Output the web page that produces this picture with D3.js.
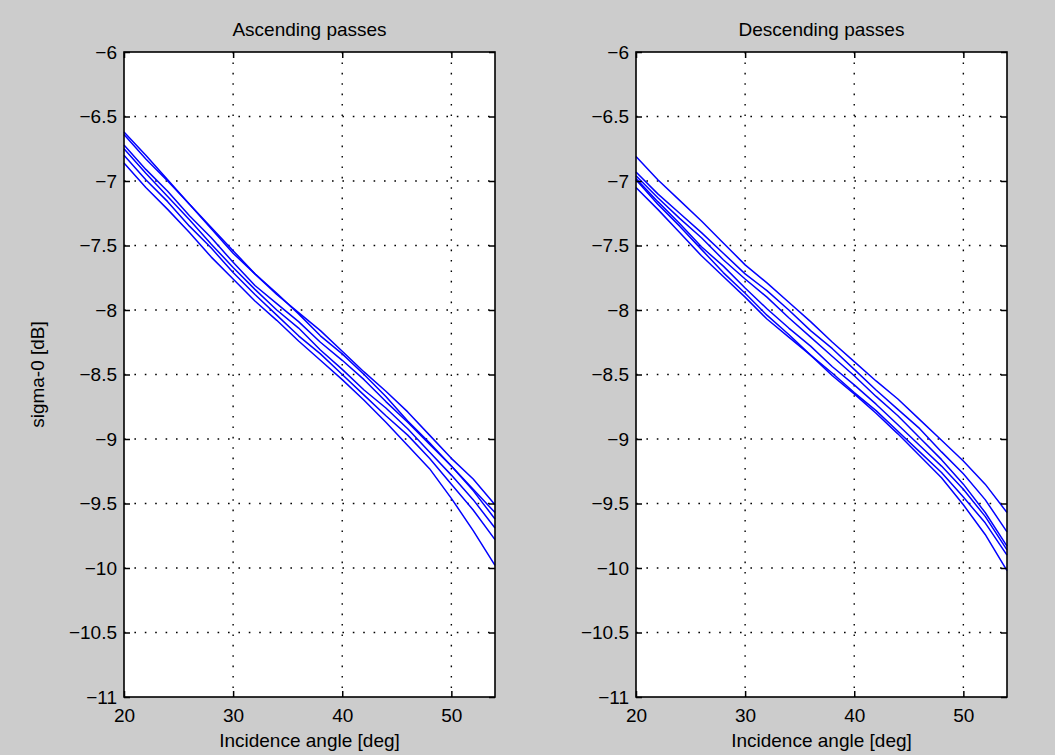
<!DOCTYPE html>
<html>
<head>
<meta charset="utf-8">
<script src="https://cdn.jsdelivr.net/npm/d3@7"></script>
<style>
  html, body { margin: 0; padding: 0; background: #cccccc; }
  svg { display: block; }
  text { font-family: "Liberation Sans", Arial, Helvetica, sans-serif; fill: #000; }
</style>
</head>
<body>
<svg id="fig" width="1055" height="755"></svg>
<script>
// Incidence angles (deg) at which sigma-0 is sampled
const angles = [20, 22, 24, 26, 28, 30, 32, 34, 36, 38, 40, 42, 44, 46, 48, 50, 52, 54];

const xTicks = [20, 30, 40, 50];
const xTickLabels = ["20", "30", "40", "50"];
const yTicks = [-6, -6.5, -7, -7.5, -8, -8.5, -9, -9.5, -10, -10.5, -11];
const yTickLabels = ["\u22126", "\u22126.5", "\u22127", "\u22127.5", "\u22128", "\u22128.5",
                     "\u22129", "\u22129.5", "\u221210", "\u221210.5", "\u221211"];

// Ascending passes, sigma-0 [dB]
const asc1 = [-6.62, -6.80, -6.99, -7.18, -7.36, -7.54, -7.72, -7.88, -8.02, -8.16, -8.32, -8.48, -8.63, -8.79, -8.97, -9.15, -9.31, -9.51];
const asc2 = [-6.64, -6.83, -7.00, -7.18, -7.37, -7.56, -7.72, -7.87, -8.03, -8.20, -8.34, -8.50, -8.67, -8.86, -9.03, -9.21, -9.40, -9.62];
const asc3 = [-6.72, -6.91, -7.08, -7.27, -7.44, -7.63, -7.81, -7.95, -8.09, -8.25, -8.39, -8.54, -8.71, -8.87, -9.04, -9.21, -9.39, -9.57];
const asc4 = [-6.75, -6.94, -7.12, -7.30, -7.49, -7.67, -7.84, -8.00, -8.14, -8.31, -8.46, -8.62, -8.76, -8.92, -9.10, -9.28, -9.47, -9.69];
const asc5 = [-6.80, -6.99, -7.16, -7.35, -7.52, -7.71, -7.88, -8.04, -8.20, -8.34, -8.50, -8.66, -8.82, -8.97, -9.15, -9.35, -9.55, -9.78];
const asc6 = [-6.86, -7.05, -7.22, -7.40, -7.59, -7.76, -7.93, -8.08, -8.24, -8.39, -8.54, -8.70, -8.87, -9.05, -9.23, -9.46, -9.71, -9.98];

// Descending passes, sigma-0 [dB]
const desc1 = [-6.81, -6.99, -7.15, -7.31, -7.48, -7.65, -7.79, -7.94, -8.09, -8.25, -8.40, -8.55, -8.69, -8.85, -9.01, -9.17, -9.35, -9.57];
const desc2 = [-6.93, -7.10, -7.25, -7.40, -7.56, -7.72, -7.85, -8.00, -8.16, -8.30, -8.46, -8.62, -8.77, -8.92, -9.10, -9.27, -9.47, -9.72];
const desc3 = [-6.96, -7.13, -7.29, -7.44, -7.61, -7.76, -7.90, -8.06, -8.21, -8.36, -8.51, -8.67, -8.82, -8.99, -9.16, -9.35, -9.57, -9.83];
const desc4 = [-6.98, -7.16, -7.33, -7.51, -7.66, -7.83, -7.99, -8.14, -8.28, -8.44, -8.58, -8.73, -8.89, -9.05, -9.21, -9.39, -9.60, -9.86];
const desc5 = [-6.99, -7.18, -7.35, -7.53, -7.71, -7.87, -8.04, -8.19, -8.35, -8.49, -8.64, -8.78, -8.94, -9.10, -9.26, -9.45, -9.65, -9.90];
const desc6 = [-7.05, -7.22, -7.40, -7.58, -7.74, -7.90, -8.07, -8.21, -8.35, -8.51, -8.65, -8.80, -8.96, -9.13, -9.30, -9.51, -9.74, -10.02];

const panels = [
  { title: "Ascending passes",  series: [asc1, asc2, asc3, asc4, asc5, asc6], ylabel: "sigma-0 [dB]" },
  { title: "Descending passes", series: [desc1, desc2, desc3, desc4, desc5, desc6], ylabel: null }
];

// Figure geometry
const fontSize = 19;
const axTop = 52, axH = 645, axW = 371;
const axLefts = [124, 636];
const tickLen = 6;

const svg = d3.select("#fig");

panels.forEach((p, i) => {
  const g = svg.append("g").attr("transform", `translate(${axLefts[i]},${axTop})`);

  const x = d3.scaleLinear().domain([20, 54]).range([0, axW]);
  const y = d3.scaleLinear().domain([-11, -6]).range([axH, 0]);

  // white plotting area
  g.append("rect").attr("width", axW).attr("height", axH).attr("fill", "#ffffff");

  // dotted grid
  const grid = g.append("g").attr("stroke", "#000").attr("stroke-width", 1.4)
    .attr("stroke-dasharray", "1.6,8.8").attr("fill", "none");
  grid.selectAll("line.v").data(xTicks.filter(t => t !== 20)).join("line")
    .attr("class", "v")
    .attr("x1", d => x(d)).attr("x2", d => x(d))
    .attr("y1", 0).attr("y2", axH);
  grid.selectAll("line.h").data(yTicks.filter(t => t !== -6 && t !== -11)).join("line")
    .attr("class", "h")
    .attr("x1", 0).attr("x2", axW)
    .attr("y1", d => y(d)).attr("y2", d => y(d));

  // sigma-0 curves
  const line = d3.line().x((d, k) => x(angles[k])).y(d => y(d));
  g.append("g").selectAll("path").data(p.series).join("path")
    .attr("d", line)
    .attr("fill", "none")
    .attr("stroke", "#0000ff")
    .attr("stroke-width", 1.5)
    .attr("stroke-linejoin", "round");

  // axes with inward ticks on all four sides
  const styleAxis = sel => {
    sel.select(".domain").remove();
    sel.selectAll(".tick line").attr("stroke", "#000").attr("stroke-width", 1.5);
    sel.selectAll(".tick text").attr("font-size", fontSize).attr("font-family", null).attr("fill", "#000");
  };

  g.append("g")
    .call(d3.axisLeft(y).tickValues(yTicks).tickSizeInner(-tickLen).tickSizeOuter(0)
      .tickPadding(7).tickFormat((d, k) => yTickLabels[k]))
    .call(styleAxis);

  g.append("g").attr("transform", `translate(${axW},0)`)
    .call(d3.axisRight(y).tickValues(yTicks).tickSizeInner(-tickLen).tickSizeOuter(0).tickFormat(""))
    .call(styleAxis);

  g.append("g").attr("transform", `translate(0,${axH})`)
    .call(d3.axisBottom(x).tickValues(xTicks).tickSizeInner(-tickLen).tickSizeOuter(0)
      .tickPadding(12).tickFormat((d, k) => xTickLabels[k]))
    .call(styleAxis);

  g.append("g")
    .call(d3.axisTop(x).tickValues(xTicks).tickSizeInner(-tickLen).tickSizeOuter(0).tickFormat(""))
    .call(styleAxis);

  // axes box
  g.append("rect").attr("width", axW).attr("height", axH)
    .attr("fill", "none").attr("stroke", "#000").attr("stroke-width", 1.6);

  // title
  g.append("text").attr("x", axW / 2).attr("y", -16)
    .attr("text-anchor", "middle").attr("font-size", fontSize).text(p.title);

  // x label
  g.append("text").attr("x", axW / 2).attr("y", axH + 50)
    .attr("text-anchor", "middle").attr("font-size", fontSize).text("Incidence angle [deg]");

  // y label
  if (p.ylabel) {
    g.append("text")
      .attr("transform", `translate(${44 - axLefts[i]},${axH / 2}) rotate(-90)`)
      .attr("text-anchor", "middle").attr("font-size", fontSize).text(p.ylabel);
  }
});
</script>
</body>
</html>
